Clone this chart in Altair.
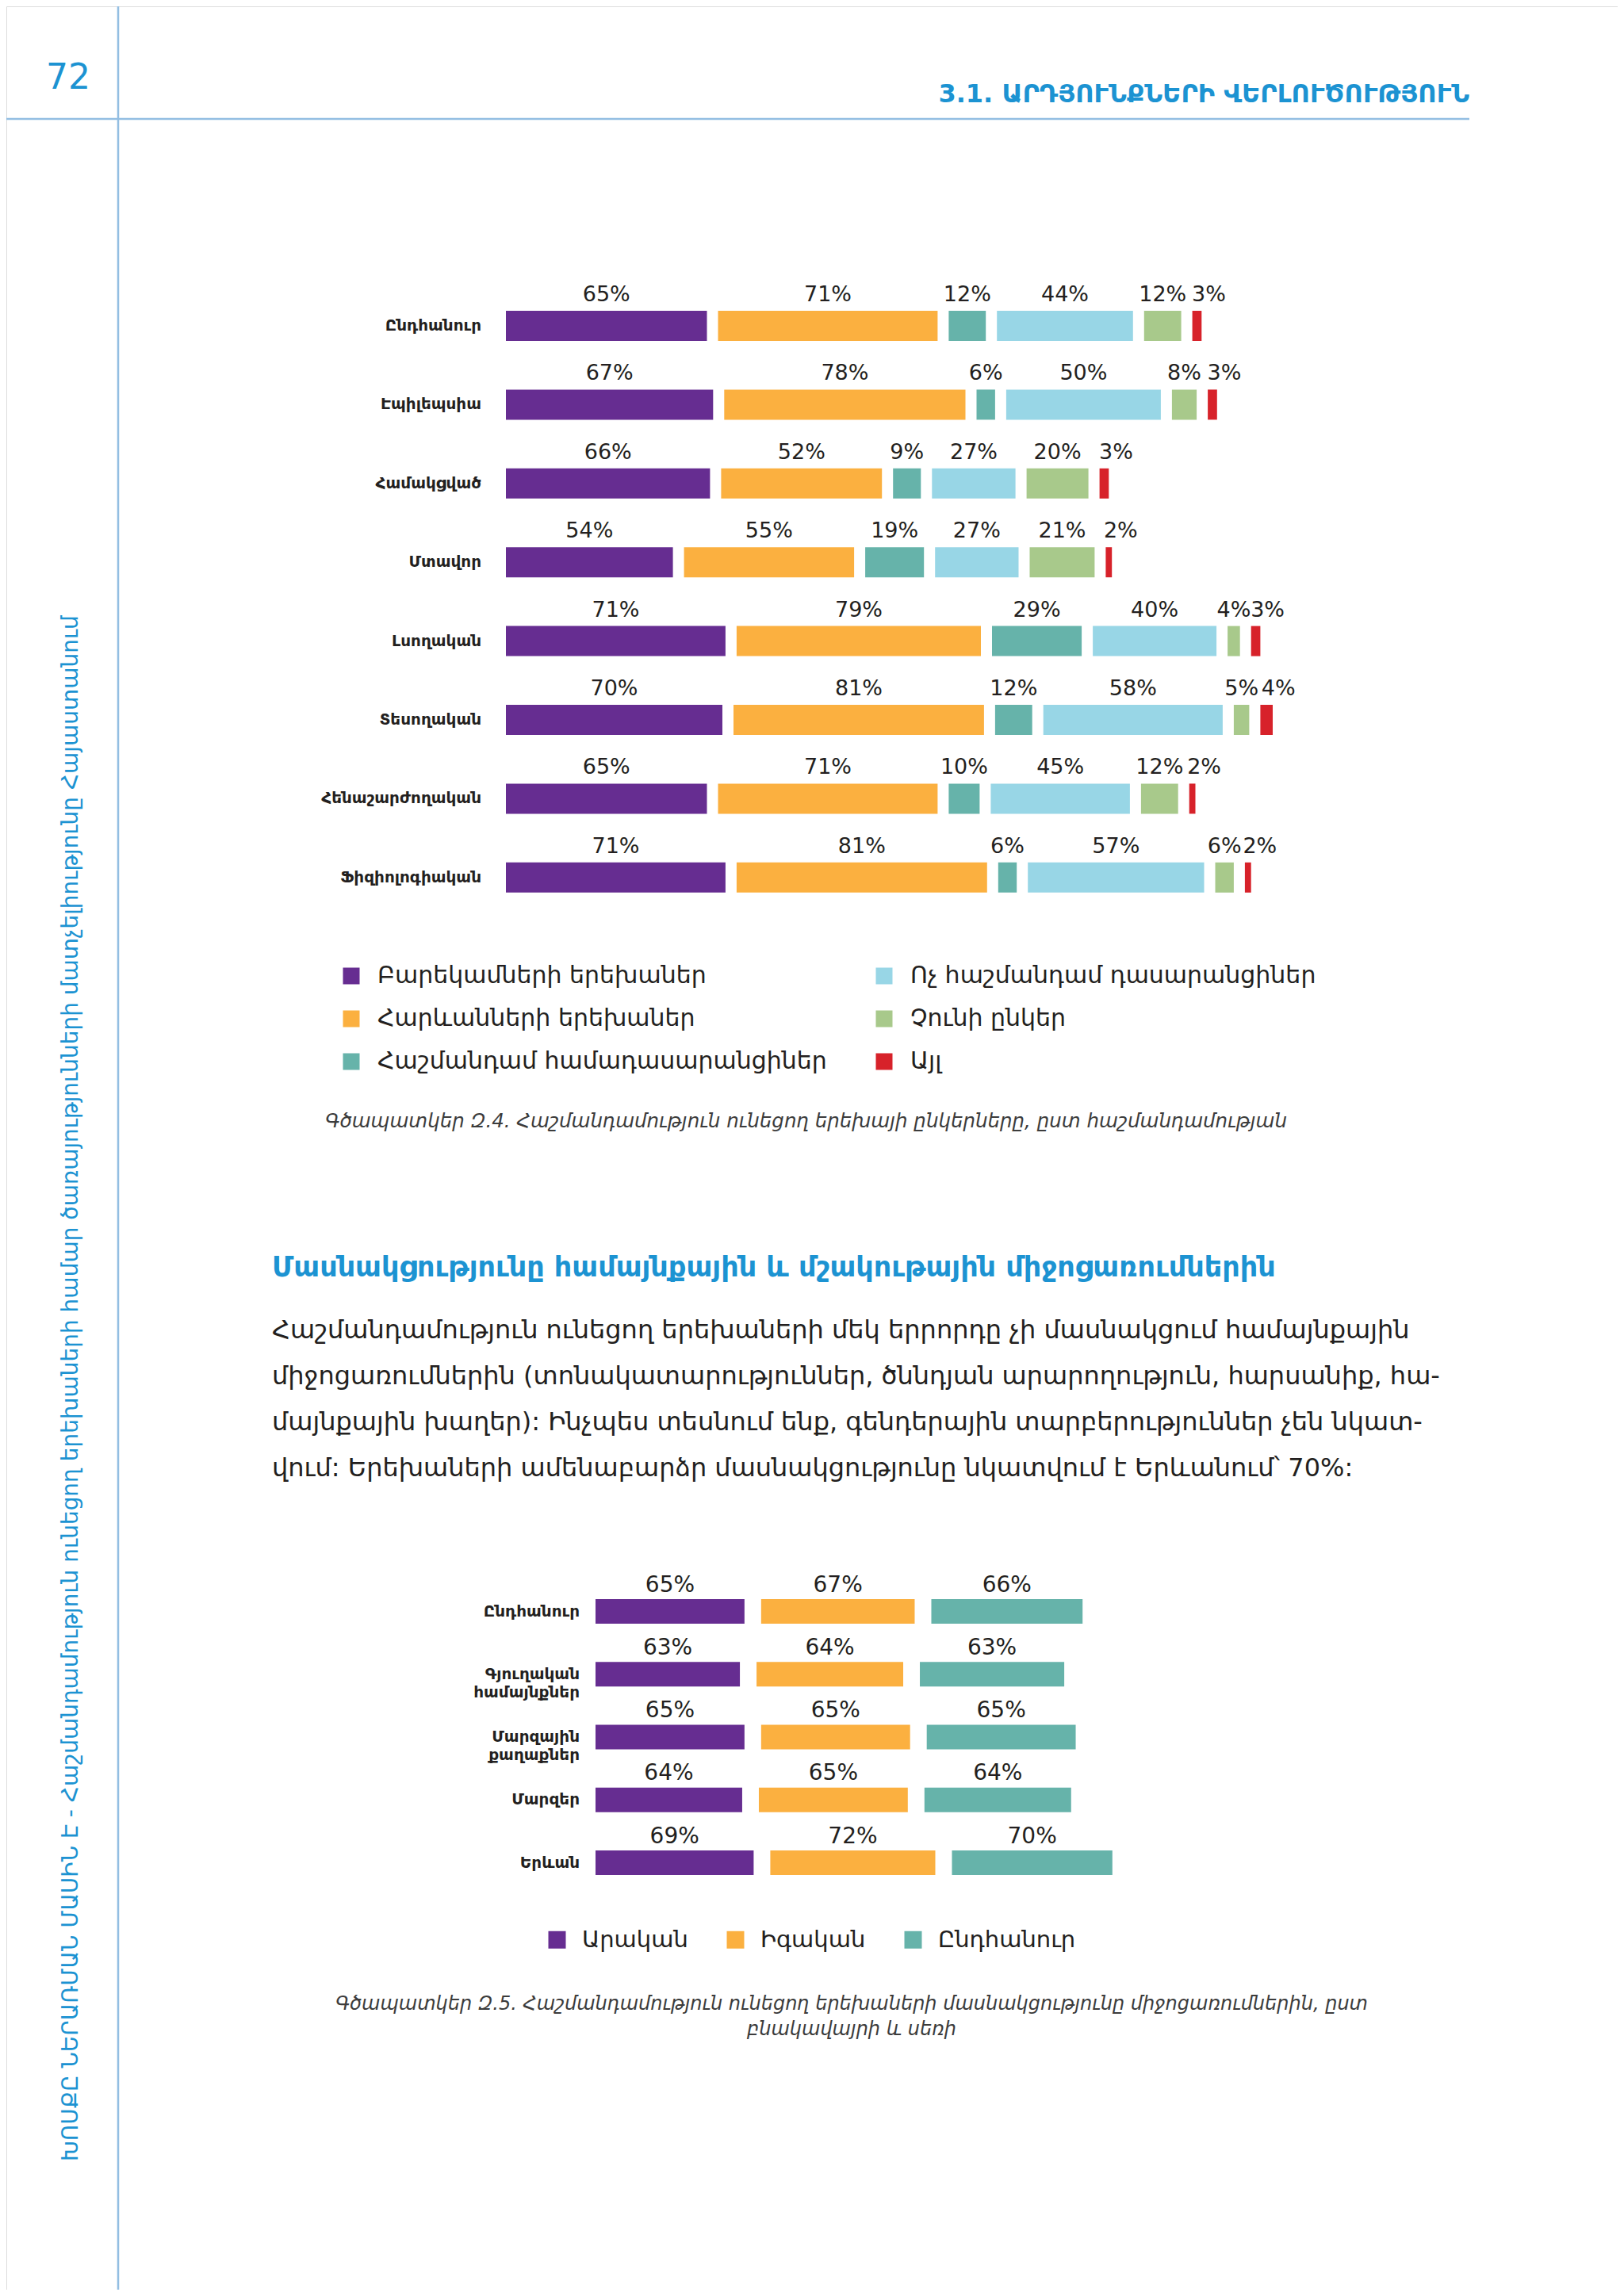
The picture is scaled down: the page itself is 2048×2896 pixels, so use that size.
import altair as alt
import pandas as pd

FONT = "DejaVu Sans"
BLUE = "#1C93D2"
LINE = "#93BEE2"
INK = "#231F20"

# ---------------- Chart Զ.4 data ----------------
categories_1 = ["Ընդհանուր", "Էպիլեպսիա", "Համակցված", "Մտավոր",
                "Լսողական", "Տեսողական", "Հենաշարժողական", "Ֆիզիոլոգիական"]
series_1 = ["Բարեկամների երեխաներ", "Հարևանների երեխաներ", "Հաշմանդամ համադասարանցիներ",
            "Ոչ հաշմանդամ դասարանցիներ", "Չունի ընկեր", "Այլ"]
relatives = [65, 67, 66, 54, 71, 70, 65, 71]
neighbours = [71, 78, 52, 55, 79, 81, 71, 81]
disabled_classmates = [12, 6, 9, 19, 29, 12, 10, 6]
nondisabled_classmates = [44, 50, 27, 27, 40, 58, 45, 57]
no_friend = [12, 8, 20, 21, 4, 5, 12, 6]
other = [3, 3, 3, 2, 3, 4, 2, 2]
colors_1 = ["#662D91", "#FBB040", "#66B3AA", "#98D6E6", "#A8C98B", "#D7222A"]

# ---------------- Chart Զ.5 data ----------------
categories_2 = ["Ընդհանուր", "Գյուղական համայնքներ", "Մարզային քաղաքներ", "Մարզեր", "Երևան"]
series_2 = ["Արական", "Իգական", "Ընդհանուր"]
male = [65, 63, 65, 64, 69]
female = [67, 64, 65, 65, 72]
total = [66, 63, 65, 64, 70]
colors_2 = ["#662D91", "#FBB040", "#66B3AA"]

# ---------------- layout parameters (pixels) ----------------
PX1, GAP1_PX, X1_START = 3.9, 14, 630
PX2, GAP2_PX, X2_START = 2.89, 21, 743
GAP1 = GAP1_PX / PX1
GAP2 = GAP2_PX / PX2


def segment_table(categories, series, columns, gap):
    rows = []
    for i, cat in enumerate(categories):
        pos = 0.0
        for k, s in enumerate(series):
            v = columns[k][i]
            rows.append(dict(category=cat, series=s, value=v, start=pos,
                             end=pos + v, mid=pos + v / 2, label=f"{v}%",
                             catlabel=cat.replace(" ", "\n")))
            pos += v + gap
    return pd.DataFrame(rows)


df1 = segment_table(categories_1, series_1,
                    [relatives, neighbours, disabled_classmates,
                     nondisabled_classmates, no_friend, other], GAP1)
df2 = segment_table(categories_2, series_2, [male, female, total], GAP2)

# ---------------- chart 1 ----------------
D1 = 260
x1 = alt.Scale(domain=[0, D1], range=[X1_START, X1_START + D1 * PX1], nice=False, zero=False)
step1, bw1 = 99.4, 38
y1_top = 392 - 8
y1 = alt.Scale(domain=categories_1, range=[y1_top, y1_top + step1 * (len(categories_1) - (1 - bw1 / step1))],
               paddingInner=1 - bw1 / step1, paddingOuter=0)
Y1 = alt.Y("category:N", scale=y1, axis=None, sort=categories_1)

base1 = alt.Chart(df1)
bars1 = base1.mark_bar().encode(
    x=alt.X("start:Q", scale=x1, axis=None),
    x2="end:Q",
    y=Y1,
    color=alt.Color("series:N",
                    scale=alt.Scale(domain=series_1, range=colors_1),
                    legend=alt.Legend(orient="none", legendX=420, legendY=1208,
                                      direction="vertical", columns=2, title=None,
                                      symbolType="square", symbolSize=441,
                                      symbolStrokeWidth=0, labelFontSize=30,
                                      labelFont=FONT, labelColor=INK, labelOffset=18,
                                      rowPadding=24, columnPadding=57, labelLimit=900,
                                      padding=0)),
)
labels1 = base1.transform_filter(alt.datum.series != series_1[-1]).mark_text(
    fontSize=27, baseline="alphabetic", dy=-31, color=INK, font=FONT).encode(
    x=alt.X("mid:Q", scale=x1, axis=None), y=Y1, text="label:N")
labels1_last = base1.transform_filter(alt.datum.series == series_1[-1]).mark_text(
    fontSize=27, baseline="alphabetic", dy=-31, dx=15, color=INK, font=FONT).encode(
    x=alt.X("mid:Q", scale=x1, axis=None), y=Y1, text="label:N")
cats1 = base1.transform_filter(alt.datum.series == series_1[0]).mark_text(
    fontSize=20, fontWeight="bold", align="right", baseline="middle", color=INK, font=FONT
).encode(x=alt.value(599), y=Y1, text="category:N")
chart1 = alt.layer(bars1, labels1, labels1_last, cats1)

# ---------------- chart 2 ----------------
D2 = 240
x2 = alt.Scale(domain=[0, D2], range=[X2_START, X2_START + D2 * PX2], nice=False, zero=False)
step2, bw2 = 79.25, 31
y2_top = 2017 - 8
y2 = alt.Scale(domain=categories_2, range=[y2_top, y2_top + step2 * (len(categories_2) - (1 - bw2 / step2))],
               paddingInner=1 - bw2 / step2, paddingOuter=0)
Y2 = alt.Y("category:N", scale=y2, axis=None, sort=categories_2)

base2 = alt.Chart(df2)
bars2 = base2.mark_bar().encode(
    x=alt.X("start:Q", scale=x2, axis=None),
    x2="end:Q",
    y=Y2,
    color=alt.Color("series:N",
                    scale=alt.Scale(domain=series_2, range=colors_2),
                    legend=alt.Legend(orient="none", legendX=680, legendY=2424,
                                      direction="horizontal", title=None,
                                      symbolType="square", symbolSize=484,
                                      symbolStrokeWidth=0, labelFontSize=29,
                                      labelFont=FONT, labelColor=INK, labelOffset=17,
                                      columnPadding=45, labelLimit=600, padding=0)),
)
labels2 = base2.mark_text(fontSize=28, baseline="alphabetic", dy=-25, color=INK, font=FONT).encode(
    x=alt.X("mid:Q", scale=x2, axis=None), y=Y2, text="label:N")
cats2 = base2.transform_filter(alt.datum.series == series_2[0]).mark_text(
    fontSize=20, fontWeight="bold", align="right", baseline="middle", color=INK,
    font=FONT, lineBreak="\n", lineHeight=23
).encode(x=alt.value(723), y=Y2, text="catlabel:N")
chart2 = alt.layer(bars2, labels2, cats2)

# ---------------- page texts ----------------
page_number = "72"
header_title = "3.1. ԱՐԴՅՈՒՆՔՆԵՐԻ ՎԵՐԼՈՒԾՈՒԹՅՈՒՆ"
side_text = ("ԽՈՍՔԸ ՆԵՐԱՌՄԱՆ ՄԱՍԻՆ Է - Հաշմանդամություն ունեցող երեխաների համար "
             "ծառայությունների մատչելիությունը Հայաստանում")
caption_1 = "Գծապատկեր Զ.4. Հաշմանդամություն ունեցող երեխայի ընկերները, ըստ հաշմանդամության"
heading = "Մասնակցությունը համայնքային և մշակութային միջոցառումներին"
paragraph = [
    "Հաշմանդամություն ունեցող երեխաների մեկ երրորդը չի մասնակցում համայնքային",
    "միջոցառումներին (տոնակատարություններ, ծննդյան արարողություն, հարսանիք, հա-",
    "մայնքային խաղեր): Ինչպես տեսնում ենք, գենդերային տարբերություններ չեն նկատ-",
    "վում: Երեխաների ամենաբարձր մասնակցությունը նկատվում է Երևանում՝ 70%:",
]
caption_2 = ["Գծապատկեր Զ.5. Հաշմանդամություն ունեցող երեխաների մասնակցությունը միջոցառումներին, ըստ",
             "բնակավայրի և սեռի"]


def text_block(t, **kw):
    return alt.Chart(pd.DataFrame({"t": [t]})).mark_text(font=FONT, **kw).encode(text="t:N")


one = pd.DataFrame({"k": [0]})
hline = alt.Chart(one).mark_rule(color=LINE, strokeWidth=2.5).encode(
    x=alt.value(0), x2=alt.value(1845), y=alt.value(142))
vline = alt.Chart(one).mark_rule(color=LINE, strokeWidth=2.5).encode(
    x=alt.value(141), y=alt.value(0), y2=alt.value(2880))

t_page = text_block(page_number, fontSize=44, color=BLUE, align="left", baseline="alphabetic").encode(
    x=alt.value(50), y=alt.value(104))
t_header = text_block(header_title, fontSize=32, fontWeight="bold", color=BLUE, align="right",
                      baseline="alphabetic").encode(x=alt.value(1845), y=alt.value(121))
t_side = text_block(side_text, fontSize=28, color=BLUE, align="left", baseline="middle",
                    angle=270).encode(x=alt.value(82), y=alt.value(2718))
t_cap1 = text_block(caption_1, fontSize=24.5, fontStyle="italic", color="#3C3C3C", align="left",
                    baseline="alphabetic").encode(x=alt.value(402), y=alt.value(1414))
t_head = text_block(heading, fontSize=35, fontWeight="bold", color=BLUE, align="left",
                    baseline="alphabetic").encode(x=alt.value(335), y=alt.value(1602))
t_par = text_block("\n".join(paragraph), fontSize=32, color=INK, align="left", baseline="alphabetic",
                   lineBreak="\n", lineHeight=58).encode(x=alt.value(335), y=alt.value(1680))
t_cap2 = text_block("\n".join(caption_2), fontSize=24, fontStyle="italic", color="#3C3C3C",
                    align="center", baseline="alphabetic", lineBreak="\n",
                    lineHeight=32).encode(x=alt.value(1066), y=alt.value(2527))

chart = alt.layer(
    chart1, chart2, hline, vline, t_page, t_header, t_side, t_cap1, t_head, t_par, t_cap2
).resolve_scale(
    x="independent", y="independent", color="independent"
).properties(
    width=2032, height=2880, padding=0,
    autosize=alt.AutoSizeParams(type="none"),
).configure_view(strokeWidth=0).configure(font=FONT)

chart.save("out.html", embed_options={"renderer": "svg", "actions": False})
